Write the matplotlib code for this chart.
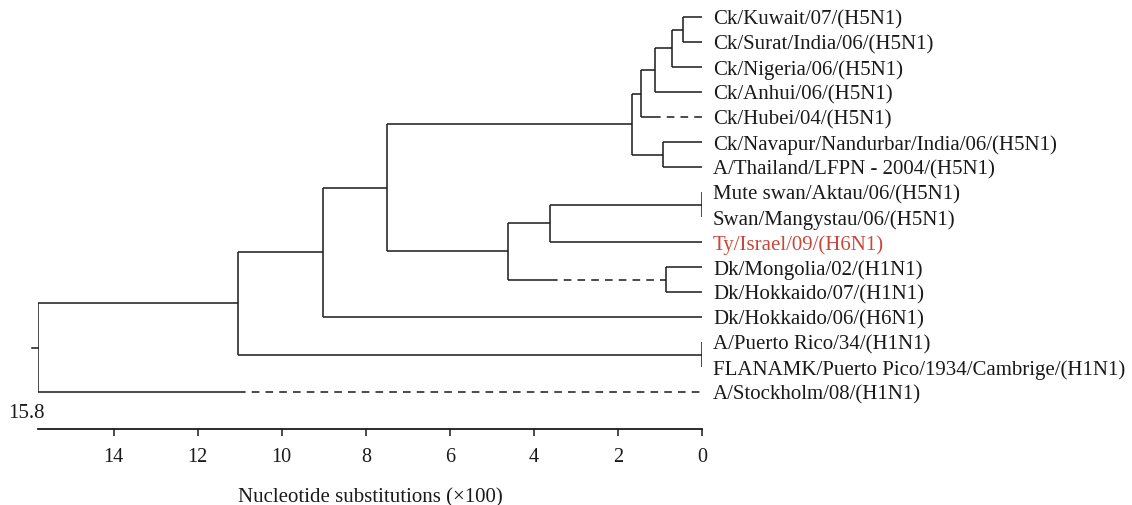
import matplotlib.pyplot as plt

plt.rcParams['font.family'] = ['Liberation Serif', 'DejaVu Serif']

# leaf order, top to bottom
leaves = [
    'Ck/Kuwait/07/(H5N1)',
    'Ck/Surat/India/06/(H5N1)',
    'Ck/Nigeria/06/(H5N1)',
    'Ck/Anhui/06/(H5N1)',
    'Ck/Hubei/04/(H5N1)',
    'Ck/Navapur/Nandurbar/India/06/(H5N1)',
    'A/Thailand/LFPN - 2004/(H5N1)',
    'Mute swan/Aktau/06/(H5N1)',
    'Swan/Mangystau/06/(H5N1)',
    'Ty/Israel/09/(H6N1)',
    'Dk/Mongolia/02/(H1N1)',
    'Dk/Hokkaido/07/(H1N1)',
    'Dk/Hokkaido/06/(H6N1)',
    'A/Puerto Rico/34/(H1N1)',
    'FLANAMK/Puerto Pico/1934/Cambrige/(H1N1)',
    'A/Stockholm/08/(H1N1)',
]

# internal nodes: children and height (nucleotide substitutions x100)
children = {
    'n1': [leaves[0], leaves[1]],
    'n2': ['n1', leaves[2]],
    'n3': ['n2', leaves[3]],
    'n4': ['n3', leaves[4]],
    'n5': [leaves[5], leaves[6]],
    'h5': ['n4', 'n5'],
    'swans': [leaves[7], leaves[8]],
    'swty': ['swans', leaves[9]],
    'dk': [leaves[10], leaves[11]],
    'mid': ['swty', 'dk'],
    'h5mid': ['h5', 'mid'],
    'n6': ['h5mid', leaves[12]],
    'pr': [leaves[13], leaves[14]],
    'n7': ['n6', 'pr'],
    'root': ['n7', leaves[15]],
}
heights = {
    'n1': 0.45, 'n2': 0.71, 'n3': 1.12, 'n4': 1.45, 'n5': 0.93, 'h5': 1.66,
    'swans': 0.0, 'swty': 3.61, 'dk': 0.86, 'mid': 4.61, 'h5mid': 7.49,
    'n6': 9.01, 'pr': 0.0, 'n7': 11.03, 'root': 15.8,
}
# branches drawn dashed from this height down to the child
dash_from = {leaves[4]: 1.16, 'dk': 3.61, leaves[15]: 11.03}

highlight = {'Ty/Israel/09/(H6N1)': '#c9483b'}
ticks = [14, 12, 10, 8, 6, 4, 2, 0]

W, H = 1132, 506
fig = plt.figure(figsize=(W / 100, H / 100), dpi=100)
ax = fig.add_axes([38 / W, 76 / H, 664 / W, 430 / H])
ax.set_xlim(15.8, 0)
ax.set_ylim(16.48, -0.72)

lc = '#1a1a1a'
lw = 1.1


def height(n):
    return heights.get(n, 0.0)


ypos = {}


def layout(n):
    if n in ypos:
        return ypos[n]
    if n not in children:
        ypos[n] = leaves.index(n)
    else:
        ys = [layout(c) for c in children[n]]
        ypos[n] = (min(ys) + max(ys)) / 2
    return ypos[n]


layout('root')

for n, kids in children.items():
    x = height(n)
    ys = [ypos[c] for c in kids]
    ax.plot([x, x], [min(ys), max(ys)], color=lc, lw=lw, solid_capstyle='butt')
    for c in kids:
        y = ypos[c]
        if c in dash_from:
            d = dash_from[c]
            ax.plot([x, d], [y, y], color=lc, lw=lw, solid_capstyle='butt')
            ax.plot([d, height(c)], [y, y], color=lc, lw=lw, linestyle=(0, (5, 4)))
        else:
            ax.plot([x, height(c)], [y, y], color=lc, lw=lw, solid_capstyle='butt')

# root stub
ax.plot([heights['root'] + 0.15, heights['root']], [ypos['root']] * 2,
        color=lc, lw=lw, clip_on=False)

for name in leaves:
    ax.annotate(name, (0, ypos[name]), xytext=(8, -1.5), textcoords='offset points',
                va='center', ha='left', fontsize=15,
                color=highlight.get(name, '#1a1a1a'), annotation_clip=False)

ax.annotate('15.8', (15.8, 16.48), xytext=(5, 5), textcoords='offset points',
            ha='right', va='bottom', fontsize=15, color='#1a1a1a',
            annotation_clip=False)

for s in ['top', 'left', 'right']:
    ax.spines[s].set_visible(False)
ax.spines['bottom'].set_linewidth(1.3)
ax.spines['bottom'].set_color(lc)
ax.set_xticks(ticks)
ax.set_xticklabels([str(t) for t in ticks])
ax.tick_params(axis='x', direction='out', length=5, width=1.1, color=lc,
               labelsize=14.5, pad=8, labelcolor='#1a1a1a')
ax.set_yticks([])
ax.set_xlabel('Nucleotide substitutions (\u00d7100)', fontsize=15,
              labelpad=15, color='#1a1a1a')

fig.savefig('out.png', dpi=100)
